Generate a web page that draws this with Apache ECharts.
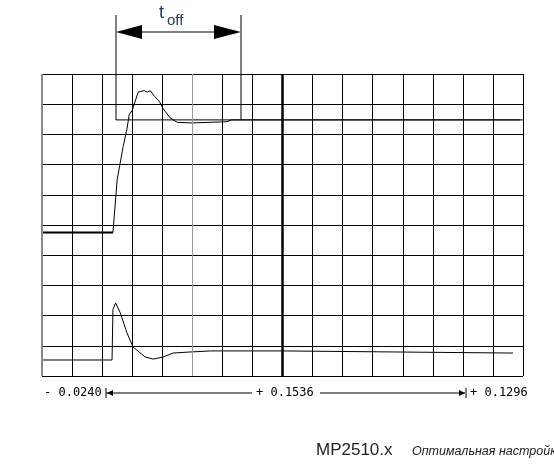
<!DOCTYPE html>
<html><head><meta charset="utf-8">
<script src="https://cdn.jsdelivr.net/npm/echarts@6/dist/echarts.min.js"></script>
<style>html,body{margin:0;background:#fff}#c{width:554px;height:470px}</style>
</head><body><div id="c"></div>
<script>
// обе кривые в делениях сетки (16 x 10)
let upperTrace = [[0,4.75],[2.36,4.75],[2.5,6.5],[2.7,7.6],[2.83,8.2],[2.9,8.65],[3.0,8.8],[3.2,9.4],[3.4,9.45],[3.5,9.4],[3.6,9.45],[3.75,9.25],[3.9,9.1],[4.03,8.85],[4.26,8.55],[4.5,8.4],[5.0,8.38],[6.15,8.42],[6.3,8.48],[15.9,8.48]];
let lowerTrace = [[0,0.53],[2.33,0.53],[2.36,2.2],[2.45,2.42],[2.6,2.1],[2.83,1.42],[3.03,0.96],[3.43,0.63],[3.7,0.56],[4.03,0.63],[4.36,0.76],[4.83,0.79],[5.6,0.83],[8,0.83],[11.25,0.8],[15.67,0.76]];
let setpoint = [[2.46,8.48],[16,8.48]];
let scaleLabels = ["- 0.0240", "+ 0.1536", "+ 0.1296"];

let chart = echarts.init(document.getElementById("c"));
let mono = "DejaVu Sans Mono";
chart.setOption({
    animation: false,
    grid: {left: 42, right: 31, top: 74, bottom: 94},
    xAxis: {type: "value", min: 0, max: 16, interval: 1,
        axisLine: {show: false}, axisTick: {show: false}, axisLabel: {show: false},
        splitLine: {lineStyle: {color: "#000", width: 1}}},
    yAxis: {type: "value", min: 0, max: 10, interval: 1,
        axisLine: {show: false}, axisTick: {show: false}, axisLabel: {show: false},
        splitLine: {lineStyle: {color: "#000", width: 1}}},
    series: [
        {type: "line", data: upperTrace, symbol: "none", lineStyle: {color: "#000", width: 1},
         markLine: {symbol: "none", silent: true, label: {show: false},
            data: [{xAxis: 8, lineStyle: {color: "#000", width: 2.5, type: "solid"}},
                   {xAxis: 5, lineStyle: {color: "#999", width: 1, type: "solid"}},
                   {xAxis: 0, lineStyle: {color: "#888", width: 2, type: "solid"}}]}},
        {type: "line", data: upperTrace.slice(0, 2), symbol: "none", lineStyle: {color: "#000", width: 2}},
        {type: "line", data: setpoint, symbol: "none", lineStyle: {color: "#000", width: 1}},
        {type: "line", data: lowerTrace, symbol: "none", lineStyle: {color: "#000", width: 1}}
    ],
    graphic: [
        {type: "line", shape: {x1: 116, y1: 15, x2: 116, y2: 120}, style: {stroke: "#000", lineWidth: 1}},
        {type: "line", shape: {x1: 241, y1: 15, x2: 241, y2: 120}, style: {stroke: "#000", lineWidth: 1}},
        {type: "line", shape: {x1: 140, y1: 32, x2: 216, y2: 32}, style: {stroke: "#000", lineWidth: 1}},
        {type: "polygon", shape: {points: [[116,32],[142,25],[142,39]]}, style: {fill: "#000"}},
        {type: "polygon", shape: {points: [[241,32],[214,25],[214,39]]}, style: {fill: "#000"}},
        {type: "text", x: 159, y: 4, style: {text: "t", font: "18px Arial", fill: "#1f3a6e"}},
        {type: "text", x: 167, y: 13, style: {text: "off", font: "15px Arial", fill: "#1f3a6e"}},
        {type: "text", x: 44, y: 387, style: {text: scaleLabels[0], font: "12px " + mono, fill: "#000"}},
        {type: "line", shape: {x1: 106, y1: 393, x2: 252, y2: 393}, style: {stroke: "#000", lineWidth: 1}},
        {type: "line", shape: {x1: 106, y1: 388, x2: 106, y2: 398}, style: {stroke: "#000", lineWidth: 1}},
        {type: "polygon", shape: {points: [[107,393],[113,390],[113,396]]}, style: {fill: "#000"}},
        {type: "text", x: 256, y: 387, style: {text: scaleLabels[1], font: "12px " + mono, fill: "#000"}},
        {type: "line", shape: {x1: 320, y1: 393, x2: 465, y2: 393}, style: {stroke: "#000", lineWidth: 1}},
        {type: "line", shape: {x1: 466, y1: 388, x2: 466, y2: 398}, style: {stroke: "#000", lineWidth: 1}},
        {type: "polygon", shape: {points: [[465,393],[459,390],[459,396]]}, style: {fill: "#000"}},
        {type: "text", x: 470, y: 387, style: {text: scaleLabels[2], font: "12px " + mono, fill: "#000"}},
        {type: "text", x: 316, y: 442, style: {text: "MP2510.x", font: "17px Arial", fill: "#222"}},
        {type: "text", x: 412, y: 445, style: {text: "Оптимальная настройка", font: "italic 12.5px Arial", fill: "#222"}}
    ]
});
</script></body></html>
